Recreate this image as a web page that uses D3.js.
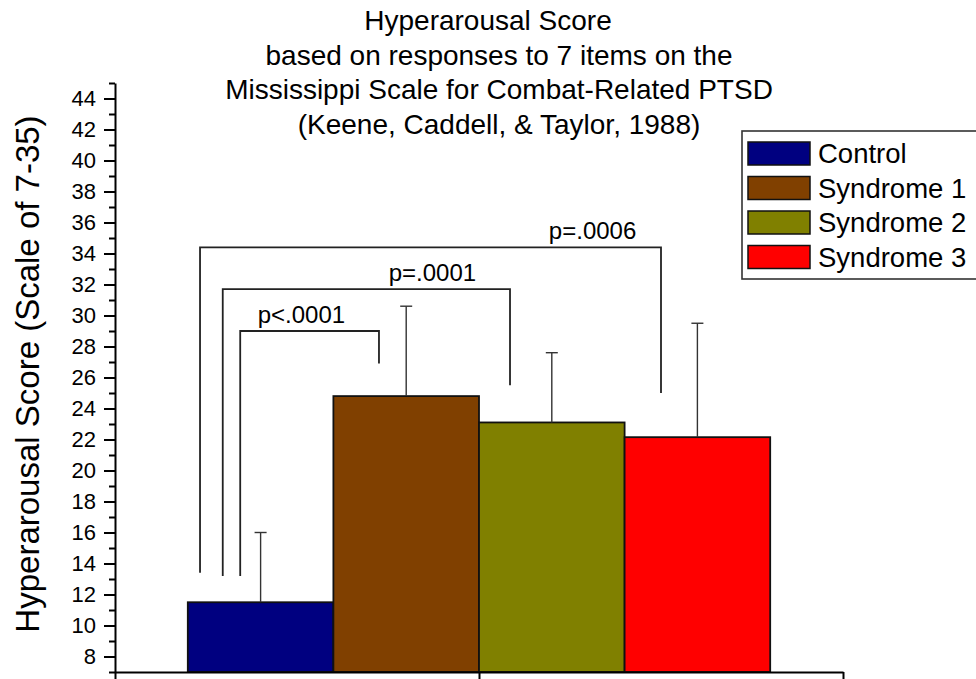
<!DOCTYPE html>
<html>
<head>
<meta charset="utf-8">
<script src="https://cdn.jsdelivr.net/npm/d3@7"></script>
<style>
  body { margin: 0; background: #fff; }
  text { font-family: "Liberation Sans", Arial, sans-serif; fill: #000; }
</style>
</head>
<body>
<script>
// Chart data
var groups = ["Control", "Syndrome 1", "Syndrome 2", "Syndrome 3"];
var means = [11.5, 24.8, 23.1, 22.15];
var upperErr = [16.0, 30.6, 27.6, 29.5];
var colors = ["#000080", "#804000", "#808000", "#ff0000"];

var titleLines = [
  "Hyperarousal Score",
  "based on responses to 7 items on the",
  "Mississippi Scale for Combat-Related PTSD",
  "(Keene, Caddell, & Taylor, 1988)"
];
var yLabel = "Hyperarousal Score (Scale of 7-35)";
var majorTicks = d3.range(8, 45, 2);
var minorTicks = d3.range(7, 46, 1);

// significance brackets (x in bar units, y in score units)
var pLabels = ["p<.0001", "p=.0001", "p=.0006"];
var pLabelX = [0.78, 1.68, 2.78];
var bracketLeft = [0.36, 0.24, 0.084];
var bracketRight = [1.313, 2.213, 3.25];
var bracketTop = [29.0, 31.7, 34.4];
var bracketLeftEnd = [13.2, 13.2, 13.4];
var bracketRightEnd = [26.9, 25.5, 25.0];

var width = 976, height = 679;

var svg = d3.select("body")
  .append("svg")
  .attr("width", width)
  .attr("height", height);

// Scales: each bar is one unit wide, axis runs half a bar past each side
var x_Scale = d3.scaleLinear()
  .domain([-0.5, 4.5])
  .range([115, 843]);

var y_Scale = d3.scaleLinear()
  .domain([7, 45])
  .range([672, 83]);

// Title (first line sits a little left in the original)
svg.append("g")
  .selectAll("text")
  .data(titleLines)
  .enter()
  .append("text")
  .attr("x", function(d, i) { return i === 0 ? 488 : 499; })
  .attr("y", function(d, i) { return 30 + i * 34.5; })
  .attr("text-anchor", "middle")
  .style("font-size", "28px")
  .text(function(d) { return d; });

// Y axis label
svg.append("text")
  .attr("transform", "translate(39, 374) rotate(-90)")
  .attr("text-anchor", "middle")
  .style("font-size", "33px")
  .text(yLabel);

// Bars
svg.append("g")
  .selectAll("rect")
  .data(means)
  .enter()
  .append("rect")
  .attr("x", function(d, i) { return x_Scale(i); })
  .attr("y", function(d) { return y_Scale(d); })
  .attr("width", function(d, i) { return x_Scale(i + 1) - x_Scale(i); })
  .attr("height", function(d) { return y_Scale(7) - y_Scale(d); })
  .attr("fill", function(d, i) { return colors[i]; })
  .attr("stroke", "#111")
  .attr("stroke-width", 1.8);

// Error bars (upper only)
var err = svg.append("g")
  .attr("stroke", "#333")
  .attr("stroke-width", 1.4);

err.selectAll("line.stem")
  .data(upperErr)
  .enter()
  .append("line")
  .attr("class", "stem")
  .attr("x1", function(d, i) { return x_Scale(i + 0.5); })
  .attr("x2", function(d, i) { return x_Scale(i + 0.5); })
  .attr("y1", function(d, i) { return y_Scale(means[i]); })
  .attr("y2", function(d) { return y_Scale(d); });

err.selectAll("line.cap")
  .data(upperErr)
  .enter()
  .append("line")
  .attr("class", "cap")
  .attr("x1", function(d, i) { return x_Scale(i + 0.5) - 6; })
  .attr("x2", function(d, i) { return x_Scale(i + 0.5) + 6; })
  .attr("y1", function(d) { return y_Scale(d); })
  .attr("y2", function(d) { return y_Scale(d); });

// Significance brackets
var bracketPath = d3.line()
  .x(function(d) { return x_Scale(d[0]); })
  .y(function(d) { return y_Scale(d[1]); });

svg.append("g")
  .selectAll("path")
  .data(pLabels)
  .enter()
  .append("path")
  .attr("d", function(d, i) {
    return bracketPath([
      [bracketLeft[i], bracketLeftEnd[i]],
      [bracketLeft[i], bracketTop[i]],
      [bracketRight[i], bracketTop[i]],
      [bracketRight[i], bracketRightEnd[i]]
    ]);
  })
  .attr("fill", "none")
  .attr("stroke", "#222")
  .attr("stroke-width", 1.8);

svg.append("g")
  .selectAll("text")
  .data(pLabels)
  .enter()
  .append("text")
  .attr("x", function(d, i) { return x_Scale(pLabelX[i]); })
  .attr("y", function(d, i) { return y_Scale(bracketTop[i]) - 8; })
  .attr("text-anchor", "middle")
  .style("font-size", "24px")
  .text(function(d) { return d; });

// Y axis: minor ticks then labelled major ticks
svg.append("g")
  .attr("transform", "translate(115, 0)")
  .call(d3.axisLeft(y_Scale).tickValues(minorTicks).tickSize(6).tickSizeOuter(0).tickFormat(""))
  .call(function(g) { g.selectAll("line, path").attr("stroke", "#000").attr("stroke-width", 2); });

svg.append("g")
  .attr("transform", "translate(115, 0)")
  .call(d3.axisLeft(y_Scale).tickValues(majorTicks).tickSize(11).tickSizeOuter(0).tickPadding(8))
  .call(function(g) {
    g.select(".domain").remove();
    g.selectAll("line").attr("stroke", "#000").attr("stroke-width", 2);
    g.selectAll("text")
      .style("font-family", "'Liberation Sans', Arial, sans-serif")
      .style("font-size", "22px")
      .attr("fill", "#000");
  });

// X axis: ends and middle ticks, no labels
svg.append("g")
  .attr("transform", "translate(0, " + y_Scale(7) + ")")
  .call(d3.axisBottom(x_Scale).tickValues([-0.5, 2, 4.5]).tickSize(10).tickSizeOuter(0).tickFormat(""))
  .call(function(g) { g.selectAll("line, path").attr("stroke", "#000").attr("stroke-width", 2); });

// Legend
var legend = svg.append("g");
legend.append("rect")
  .attr("x", 742)
  .attr("y", 131)
  .attr("width", 260)
  .attr("height", 148)
  .attr("fill", "#fff")
  .attr("stroke", "#333")
  .attr("stroke-width", 1.6);

var rows = legend.selectAll("g.row")
  .data(groups)
  .enter()
  .append("g")
  .attr("class", "row")
  .attr("transform", function(d, i) { return "translate(748, " + (142 + i * 34.5) + ")"; });

rows.append("rect")
  .attr("width", 62)
  .attr("height", 23)
  .attr("fill", function(d, i) { return colors[i]; })
  .attr("stroke", "#111")
  .attr("stroke-width", 1.5);

rows.append("text")
  .attr("x", 70)
  .attr("y", 21)
  .style("font-size", "27.5px")
  .text(function(d) { return d; });
</script>
</body>
</html>
